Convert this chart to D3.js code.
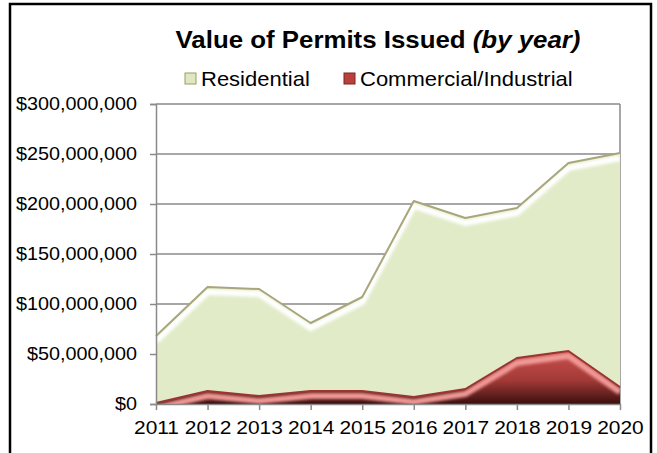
<!DOCTYPE html>
<html>
<head>
<meta charset="utf-8">
<script src="https://cdn.jsdelivr.net/npm/d3@7"></script>
<style>
  body { margin: 0; background: #fff; }
  svg text { font-family: "Liberation Sans", Arial, sans-serif; fill: #000; }
</style>
</head>
<body>
<div id="chart"></div>
<script>
// data
const years = ["2011", "2012", "2013", "2014", "2015", "2016", "2017", "2018", "2019", "2020"];
const residential = [68e6, 117e6, 115e6, 81e6, 107e6, 203e6, 186e6, 196e6, 241e6, 251e6];
const commercial = [1e6, 13e6, 8e6, 13e6, 13e6, 7e6, 15e6, 46e6, 53e6, 17e6];
const yTicks = [0, 50e6, 100e6, 150e6, 200e6, 250e6, 300e6];

const W = 657, H = 453;
const margin = { top: 104, right: 37, bottom: 49, left: 156 };
const width = W - margin.left - margin.right;
const height = H - margin.top - margin.bottom;
// the picture's text is a bit wider than the font, stretch it horizontally
const stretch = 1.1;

const svg = d3.select("#chart").append("svg")
    .attr("width", W)
    .attr("height", H);

const defs = svg.append("defs");

// gradient for commercial area
const grad = defs.append("linearGradient")
    .attr("id", "redGrad")
    .attr("x1", 0).attr("y1", 0).attr("x2", 0).attr("y2", 1);
grad.append("stop").attr("offset", "0%").attr("stop-color", "#c9504d");
grad.append("stop").attr("offset", "55%").attr("stop-color", "#a33a37");
grad.append("stop").attr("offset", "100%").attr("stop-color", "#3a0f0e");

const blur = defs.append("filter").attr("id", "soft");
blur.append("feGaussianBlur").attr("stdDeviation", 1.6);

// outer frame
svg.append("rect")
    .attr("x", 10).attr("y", 4)
    .attr("width", 641).attr("height", 470)
    .attr("fill", "none")
    .attr("stroke", "#000")
    .attr("stroke-width", 2.5);

// title
const title = svg.append("text")
    .attr("transform", `translate(378,48) scale(${stretch},1)`)
    .attr("text-anchor", "middle")
    .style("font-size", "23.5px")
    .style("font-weight", "bold");
title.append("tspan").text("Value of Permits Issued ");
title.append("tspan").style("font-style", "italic").text("(by year)");

// legend
const legendItems = [
    { label: "Residential", x: 185, fill: "#dfe8c0", stroke: "#9c9a6c" },
    { label: "Commercial/Industrial", x: 344, fill: "#b8413e", stroke: "#7a2422" }
];
const lg = svg.selectAll(".legend")
    .data(legendItems)
    .enter()
    .append("g")
    .attr("class", "legend")
    .attr("transform", d => `translate(${d.x},73)`);
lg.append("rect")
    .attr("width", 11).attr("height", 11)
    .attr("fill", d => d.fill)
    .attr("stroke", d => d.stroke)
    .attr("stroke-width", 1);
lg.append("text")
    .attr("transform", `translate(16,13) scale(${stretch},1)`)
    .style("font-size", "20px")
    .text(d => d.label);

const plot = svg.append("g")
    .attr("transform", `translate(${margin.left},${margin.top})`);

const x = d3.scalePoint()
    .domain(years)
    .range([0, width]);

const y = d3.scaleLinear()
    .domain([0, 300e6])
    .range([height, 0]);

// gridlines
plot.append("g")
    .selectAll("line")
    .data(yTicks)
    .enter()
    .append("line")
    .attr("x1", 0).attr("x2", width)
    .attr("y1", d => y(d)).attr("y2", d => y(d))
    .attr("stroke", "#8a8a8a")
    .attr("stroke-width", 1.5);

// plot right border
plot.append("line")
    .attr("x1", width).attr("x2", width)
    .attr("y1", 0).attr("y2", height)
    .attr("stroke", "#8a8a8a")
    .attr("stroke-width", 1.5);

function drawArea(values, id, fill, edge, glow) {
    const area = d3.area()
        .x((d, i) => x(years[i]))
        .y0(y(0))
        .y1(d => y(d));
    const line = d3.line()
        .x((d, i) => x(years[i]))
        .y(d => y(d));

    defs.append("clipPath").attr("id", id)
        .append("path").attr("d", area(values));

    plot.append("path")
        .attr("d", area(values))
        .attr("fill", fill);

    // bevel highlight just inside the top edge (clip on the group so it stays put)
    plot.append("g")
        .attr("clip-path", `url(#${id})`)
        .append("path")
        .attr("d", line(values))
        .attr("transform", "translate(0,5)")
        .attr("fill", "none")
        .attr("stroke", glow)
        .attr("stroke-width", 6)
        .attr("filter", "url(#soft)");

    plot.append("path")
        .attr("d", line(values))
        .attr("fill", "none")
        .attr("stroke", edge)
        .attr("stroke-width", 2)
        .attr("stroke-linejoin", "round");
}

drawArea(residential, "resClip", "#e1ebc8", "#a8a67a", "#ffffff");
drawArea(commercial, "comClip", "url(#redGrad)", "#9a3532", "#f19a97");

// axes
const yAxis = plot.append("g")
    .call(d3.axisLeft(y)
        .tickValues(yTicks)
        .tickSize(6)
        .tickPadding(13)
        .tickFormat(d => "$" + d3.format(",")(d)));
yAxis.select(".domain").attr("stroke", "#8a8a8a").attr("stroke-width", 1.5);
yAxis.selectAll(".tick line").attr("stroke", "#8a8a8a").attr("stroke-width", 1.5);
yAxis.selectAll("text")
    .attr("x", 0)
    .attr("transform", `translate(-19,0) scale(${stretch},1)`)
    .style("font-size", "18px")
    .attr("font-family", null);

const xAxis = plot.append("g")
    .attr("transform", `translate(0,${height})`)
    .call(d3.axisBottom(x).tickSize(6).tickPadding(11).tickSizeOuter(0));
xAxis.select(".domain").attr("stroke", "#8a8a8a").attr("stroke-width", 1.5);
xAxis.selectAll(".tick line").attr("stroke", "#8a8a8a").attr("stroke-width", 1.5);
xAxis.selectAll("text")
    .attr("y", 0)
    .attr("transform", `translate(0,17) scale(${stretch},1)`)
    .style("font-size", "19px")
    .attr("font-family", null);
</script>
</body>
</html>
